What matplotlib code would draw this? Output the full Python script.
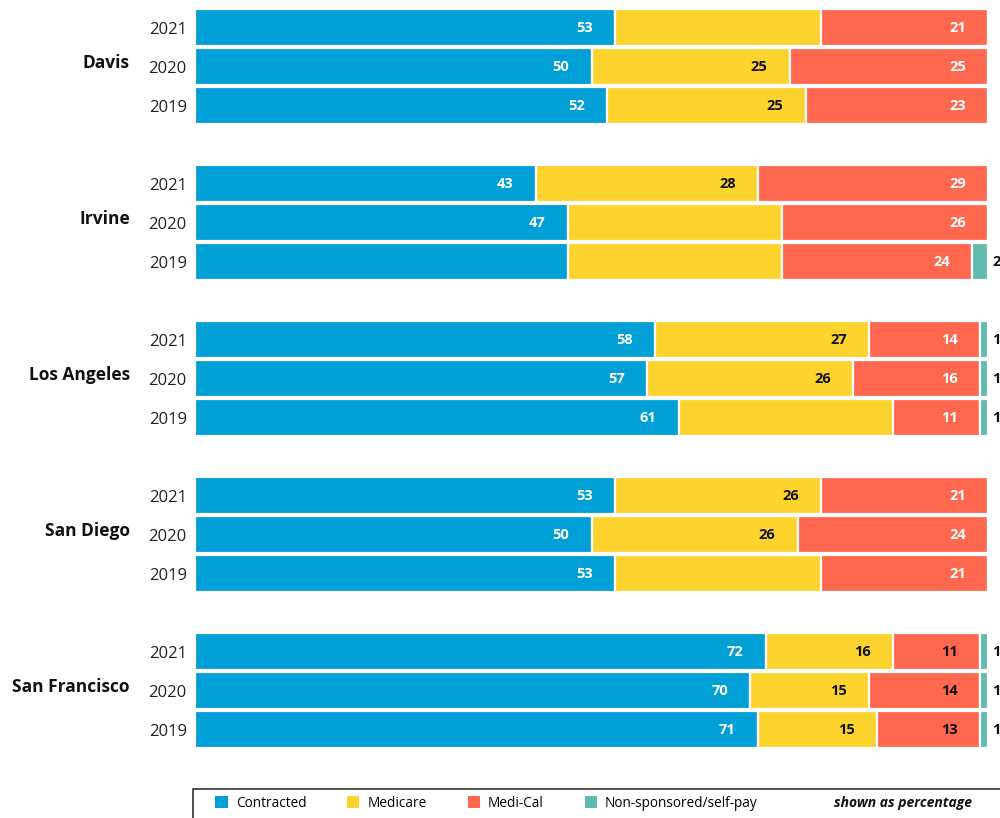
import matplotlib.pyplot as plt
from matplotlib.patches import Patch, Rectangle
from matplotlib.transforms import blended_transform_factory

plt.rcParams['font.family'] = ['Open Sans', 'DejaVu Sans']

# data (percent), top year first within each city
cities = ['Davis', 'Irvine', 'Los Angeles', 'San Diego', 'San Francisco']
years = ['2021', '2020', '2019']
contracted = [53, 50, 52, 43, 47, 47, 58, 57, 61, 53, 50, 53, 72, 70, 71]
medicare = [26, 25, 25, 28, 27, 27, 27, 26, 27, 26, 26, 26, 16, 15, 15]
medical = [21, 25, 23, 29, 26, 24, 14, 16, 11, 21, 24, 21, 11, 14, 13]
selfpay = [0, 0, 0, 0, 0, 2, 1, 1, 1, 0, 0, 0, 1, 1, 1]

# labels as printed on the chart ('' = not shown)
contracted_lbl = ['53', '50', '52', '43', '47', '', '58', '57', '61', '53', '50', '53', '72', '70', '71']
medicare_lbl = ['', '25', '25', '28', '', '', '27', '26', '', '26', '26', '', '16', '15', '15']
medical_lbl = ['21', '25', '23', '29', '26', '24', '14', '16', '11', '21', '24', '21', '11', '14', '13']
selfpay_lbl = ['', '', '', '', '', '2', '1', '1', '1', '', '', '', '1', '1', '1']

colors = ['#009FD6', '#FDD32D', '#FF684E', '#5FBBAE']
series_names = ['Contracted', 'Medicare', 'Medi-Cal', 'Non-sponsored/self-pay']

# row positions: 3 bars per city, one blank row between cities
rows = []
for g in range(len(cities)):
    for j in range(len(years)):
        rows.append(g * 4 + j)

fig = plt.figure(figsize=(10, 8.18), dpi=100)
ax = fig.add_axes([0.195, 1 - 749 / 818, 0.793, 741 / 818])

series = [contracted, medicare, medical, selfpay]
labels = [contracted_lbl, medicare_lbl, medical_lbl, selfpay_lbl]
left = [0] * len(rows)
for k, vals in enumerate(series):
    bars = ax.barh(rows, vals, left=left, height=0.96, color=colors[k],
                   edgecolor='white', linewidth=1.6)
    for i, (b, txt) in enumerate(zip(bars, labels[k])):
        if not txt:
            continue
        end = left[i] + vals[i]
        y = rows[i]
        if k == 3:
            ax.annotate(txt, (end, y), xytext=(3, 0), textcoords='offset points',
                        ha='left', va='center', fontsize=10.5, fontweight='bold', color='#111111')
            continue
        if k == 1:
            c = '#111111'
        elif k == 2 and i >= 12:
            c = '#111111'
        else:
            c = 'white'
        ax.annotate(txt, (end, y), xytext=(-16, 0), textcoords='offset points',
                    ha='right', va='center', fontsize=10.5, fontweight='bold', color=c)
    left = [a + b for a, b in zip(left, vals)]

ax.set_xlim(0, 100)
ax.set_ylim(18.5, -0.5)
ax.set_yticks(rows)
ax.set_yticklabels(years * len(cities), fontsize=12, color='#222222')
ax.tick_params(axis='y', length=0, pad=6)
ax.set_xticks([])
for s in ax.spines.values():
    s.set_visible(False)

trans = blended_transform_factory(ax.transAxes, ax.transData)
for g, name in enumerate(cities):
    ax.text(-0.082, g * 4 + 0.9, name, transform=trans, ha='right', va='center',
            fontsize=12.5, fontweight='bold', color='#111111')

# legend box
fig.patches.append(Rectangle((0.193, -0.01), 0.815, 0.045, transform=fig.transFigure,
                             fill=False, edgecolor='#333333', linewidth=1.2))
handles = [Patch(facecolor=c, edgecolor='none') for c in colors]
fig.legend(handles, series_names, loc='center left', bbox_to_anchor=(0.203, 0.018),
           ncol=4, frameon=False, fontsize=9.8, handlelength=0.9, handleheight=0.9,
           handletextpad=0.6, columnspacing=3.0)
fig.text(0.972, 0.018, 'shown as percentage', ha='right', va='center',
         fontsize=10, fontstyle='italic', fontweight='bold', color='#111111')

fig.savefig('out.png', dpi=100)
